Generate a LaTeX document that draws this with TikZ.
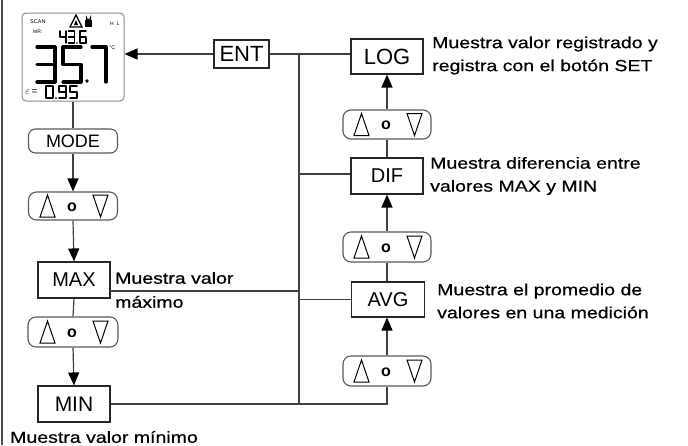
\documentclass[tikz,border=0pt]{standalone}
\usepackage{fontspec}
\setmainfont{Liberation Sans}
\newfontfamily\annfont[FakeStretch=1.22,FakeBold=0.6]{Liberation Sans}
\usetikzlibrary{arrows.meta}
\newcommand\sdig[5]{\begin{scope}[shift={#1},xscale=#2,yscale=#3]\draw[line width=#4,line cap=round,line join=round] #5;\end{scope}}
\tikzset{
  box/.style={draw=black!85, line width=1.1pt, minimum width=72pt, minimum height=36pt, inner sep=0pt, font=\fontsize{20}{24}\selectfont},
  rbox/.style={draw=black!65, line width=1.1pt, rounded corners=8pt, inner sep=0pt},
  conn/.style={draw=black!75, line width=1.2pt},
  arr/.style={conn, -{Triangle[length=13pt,width=11pt,color=black]}},
  ann/.style={anchor=west, align=left, inner sep=0pt, font=\annfont\fontsize{16}{23}\selectfont},
  tri/.style={draw=black, line width=1pt, fill=white, line join=miter},
  udsym/.pic={
    \draw[tri] (-33,11) -- (-25.5,-11) -- (-18,11) -- cycle;
    \draw[tri] (20,-11) -- (27.5,11) -- (35,-11) -- cycle;
    \node[inner sep=0pt, font=\bfseries\fontsize{16}{20}\selectfont] at (-1,1) {o};
  },
}
\begin{document}
\begin{tikzpicture}[x=1pt,y=-1pt]
\useasboundingbox (0,0) rectangle (688,445);
\draw[black!70, line width=1.2pt] (2,0) -- (2,445);

% LCD display
\node[draw=black!45, line width=1pt, rounded corners=4pt, minimum width=102pt, minimum height=88pt, inner sep=0pt] (disp) at (73,57) {};
\node[anchor=west, inner sep=0pt, font=\fontsize{5.5}{6}\selectfont] (scan) at (30,22) {SCAN};
\draw[line width=1.3pt, line join=miter] (70,27) -- (76,15) -- (82,27) -- cycle;
\fill (76,20) -- (74,25) -- (78,25) -- cycle;
\fill (85,20) rectangle (92,27);
\draw[line width=1pt] (86.5,20) -- (86.5,17.5) arc (180:0:2) -- (90.5,20);
\node[anchor=west, inner sep=0pt, font=\fontsize{5}{6}\selectfont] (hl) at (110,24) {H\hspace{3pt}L};
\node[anchor=west, inner sep=0pt, font=\fontsize{5}{6}\selectfont] (mr) at (33,32) {MR:};
\sdig{(60,31)}{6}{6}{1.4pt}{(0,0)--(0,1)--(1,1) (1,0)--(1,2)}
\sdig{(68.5,31)}{6}{6}{1.4pt}{(0,0)--(1,0)--(1,2)--(0,2) (0,1)--(1,1)}
\fill (77,43) circle (0.9);
\sdig{(80,31)}{6}{6}{1.4pt}{(1,0)--(0,0)--(0,2)--(1,2)--(1,1)--(0,1)}
\sdig{(37,47)}{18}{17.5}{3.2pt}{(0,0)--(1,0)--(1,2)--(0,2) (0,1)--(1,1)}
\sdig{(63,47)}{18}{17.5}{3.2pt}{(1,0)--(0,0)--(0,1)--(1,1)--(1,2)--(0,2)}
\fill (87,81) circle (1.8);
\sdig{(92,47)}{14}{17.5}{3.2pt}{(0,0)--(1,0)--(1,2)}
\node[anchor=west, inner sep=0pt, font=\fontsize{5.5}{6}\selectfont] (degc) at (109,48) {\textdegree C};
\node[anchor=west, inner sep=0pt, font=\fontsize{10}{11}\selectfont] (eps) at (25,92) {$\varepsilon$\,=};
\sdig{(46,86)}{7}{6}{1.6pt}{(0,0)--(1,0)--(1,2)--(0,2)--cycle}
\fill (56,98) circle (1);
\sdig{(59,86)}{7}{6}{1.6pt}{(1,1)--(0,1)--(0,0)--(1,0)--(1,2)--(0,2)}
\sdig{(70,86)}{7}{6}{1.6pt}{(1,0)--(0,0)--(0,1)--(1,1)--(1,2)--(0,2)}

% left column
\node[rbox, minimum width=89pt, minimum height=24pt, rounded corners=7pt, font=\fontsize{18}{20}\selectfont] (mode) at (73,141) {MODE};
\node[rbox, minimum width=89pt, minimum height=28pt] (ud1) at (73,206) {};
\pic at (ud1) {udsym};
\node[box] (max) at (74,280) {MAX};
\node[rbox, minimum width=90pt, minimum height=30pt] (ud2) at (73,332) {};
\pic at (ud2) {udsym};
\node[box, font=\fontsize{21}{24}\selectfont] (min) at (74,404) {MIN};

% top / right column
\node[box, minimum width=55pt, minimum height=28pt, font=\fontsize{22}{26}\selectfont] (ent) at (241.5,54) {ENT};
\node[box, minimum height=35pt, font=\fontsize{22}{26}\selectfont] (log) at (387,56.5) {LOG};
\node[rbox, minimum width=88pt, minimum height=29pt] (ud3) at (387,124.5) {};
\pic at (ud3) {udsym};
\node[box] (dif) at (387,176) {DIF};
\node[rbox, minimum width=88pt, minimum height=30pt] (ud4) at (387,247) {};
\pic at (ud4) {udsym};
\node[box, minimum width=73pt, minimum height=35pt] (avg) at (388,299.5) {AVG};
\node[rbox, minimum width=88pt, minimum height=30pt] (ud5) at (387,371) {};
\pic at (ud5) {udsym};

% bus
\coordinate (bt) at (299,54);
\coordinate (bb) at (299,404);
\coordinate (mx) at (110,291);

% connectors
\draw[conn] (disp.south) -- (mode.north);
\draw[arr] (mode.south) -- (ud1.north);
\draw[arr] (ud1.south) -- (max.north);
\draw[conn] (max.south) -- (ud2.north);
\draw[arr] (ud2.south) -- (min.north);
\draw[arr] (ent.west) -- (ent.west -| disp.east);
\draw[conn] (ent.east) -- (ent.east -| log.west);
\draw[conn] (bt) -- (bb);
\draw[conn] (mx) -- (mx -| bt);
\draw[conn] (bt |- avg.west) -- (avg.west);
\draw[conn] (bt |- 0,174) -- (dif.west |- 0,174);
\draw[conn] (min.east) -- (min.east -| ud5.south) -- (ud5.south);
\draw[arr] (ud5.north) -- (ud5.north |- avg.south);
\draw[conn] (avg.north -| ud4.south) -- (ud4.south);
\draw[arr] (ud4.north) -- (dif.south);
\draw[conn] (dif.north) -- (ud3.south);
\draw[arr] (ud3.north) -- (log.south);

% annotations
\node[ann] (tlog) at (432,55.5) {Muestra valor registrado y\\registra con el botón SET};
\node[ann] (tdif) at (430,176) {Muestra diferencia entre\\valores MAX y MIN};
\node[ann] (tavg) at (437,301) {Muestra el promedio de\\valores en una medición};
\node[ann, font=\annfont\fontsize{16}{24}\selectfont] (tmax) at (115,290) {Muestra valor\\máximo};
\node[ann] (tmin) at (10,437) {Muestra valor mínimo};
\end{tikzpicture}
\end{document}
